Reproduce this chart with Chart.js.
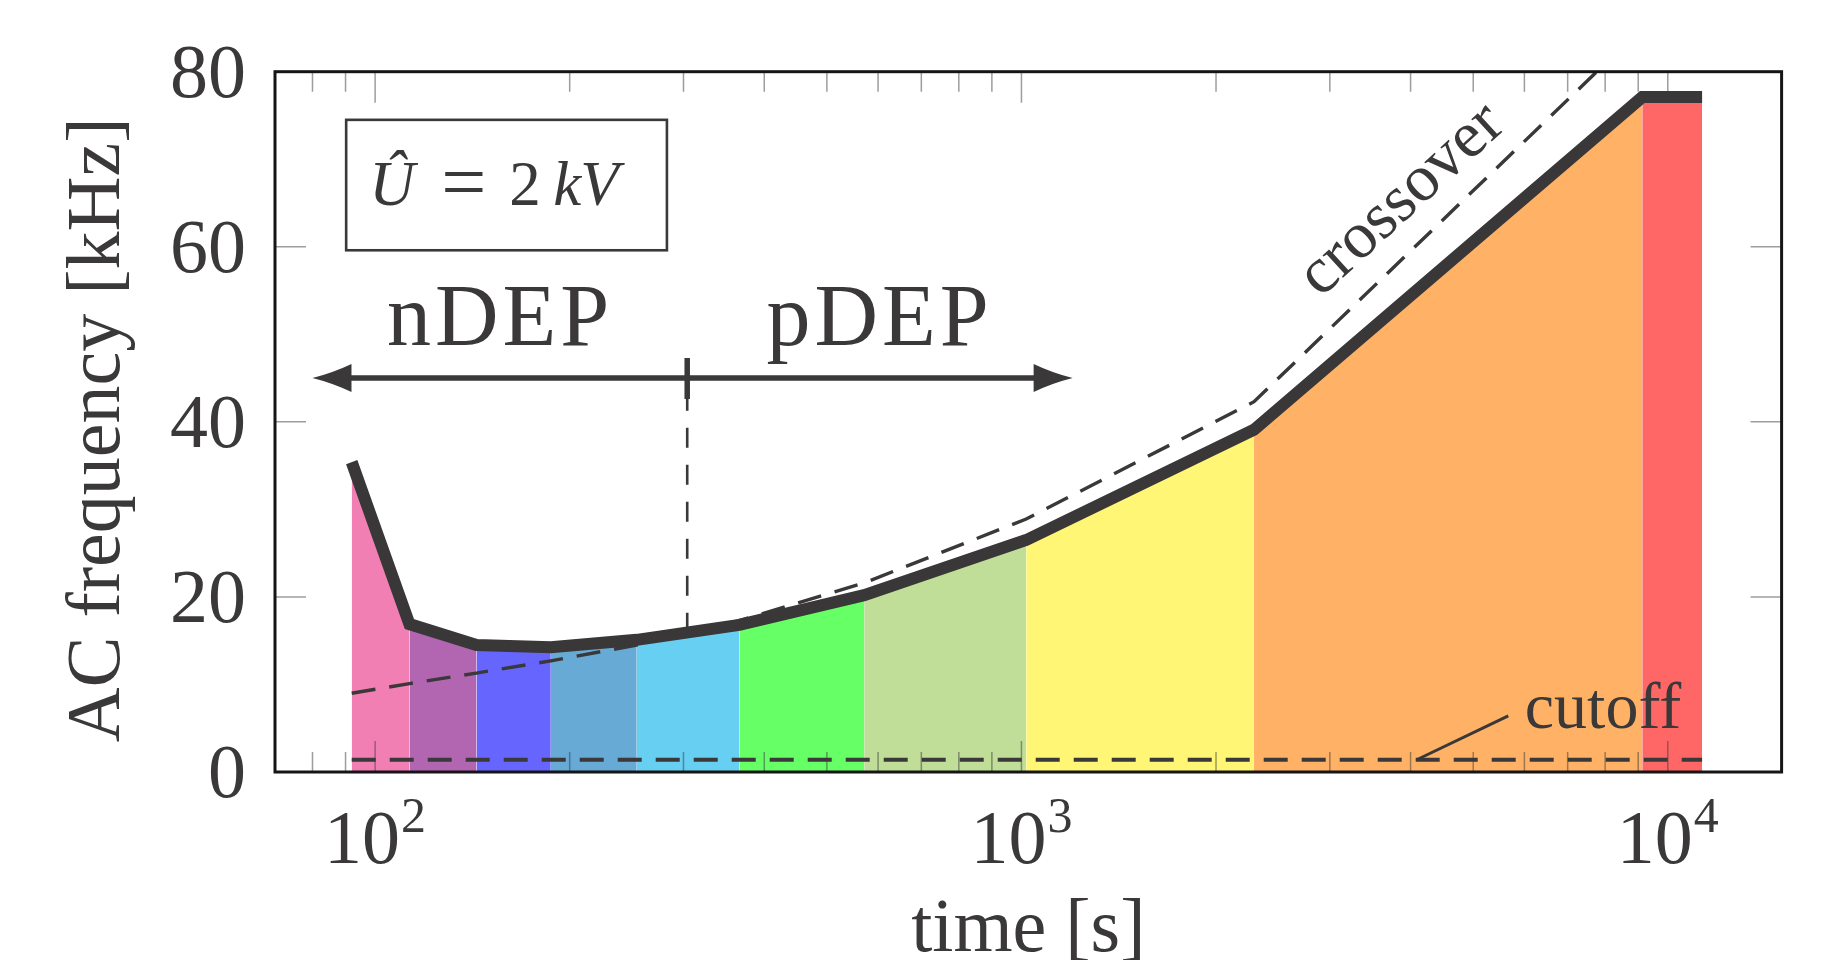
<!DOCTYPE html>
<html>
<head>
<meta charset="utf-8">
<title>AC frequency vs time</title>
<script src="https://cdn.jsdelivr.net/npm/chart.js@4.4.1/dist/chart.umd.min.js"></script>
<style>
    html, body { margin: 0; padding: 0; background: #fff; }
    #wrap { width: 1840px; height: 960px; }
</style>
</head>
<body>
<div id="wrap"><canvas id="freqChart" width="1840" height="960"></canvas></div>
<script>
// --- data ---
const bandTimes = [92, 113, 143.5, 187, 254, 366, 571, 1017, 2290, 9130, 11300];
const measuredFreq = [35.4, 16.9, 14.5, 14.25, 15.1, 16.8, 20.2, 26.5, 39.1, 77.1, 77.1];
const bandColors = ['#F27FB3', '#B266B2', '#6666FF', '#66AAD5', '#66CFF2',
    '#66FF66', '#C0DE97', '#FFF676', '#FFB266', '#FF6666'];

const crossoverTimes = [92, 113, 143.5, 187, 254, 366, 571, 1017, 2290, 9130];
const crossoverFreq = [9.0, 10.1, 11.3, 12.7, 14.5, 17.3, 21.6, 28.9, 42.3, 85.0];

const cutoffTimes = [92, 11300];
const cutoffFreq = [1.4, 1.4];

const markerTimes = [304, 304];
const markerFreq = [15.9, 42.6];

const xMajorTicks = [100, 1000, 10000];
const xTickBase = '10';
const xTickExponents = ['2', '3', '4'];
const xMinorTicks = [80, 90, 200, 300, 400, 500, 600, 700, 800, 900,
    2000, 3000, 4000, 5000, 6000, 7000, 8000, 9000];
const yTicks = [0, 20, 40, 60, 80];
const yTickLabels = ['0', '20', '40', '60', '80'];

// annotation anchors (data coordinates)
const arrowLevel = 45;
const arrowFrom = 80;
const arrowTo = 1200;
const boxCorners = [[90.2, 74.5], [282.8, 59.6]];
const regionLabels = [['nDEP', 155, 48.8], ['pDEP', 599, 48.8]];
const crossoverLabelAt = [2901, 54.1];
const cutoffLabelAt = [6009, 5.0];
const cutoffLeader = [[4088, 1.4], [5665, 6.4]];

const INK = '#3a3838';
const SERIF = '"Liberation Serif", "DejaVu Serif", serif';

function pts(xs, ys) {
    return xs.map(function (t, i) { return { x: t, y: ys[i] }; });
}

const datasets = [
    {
        label: 'measured',
        data: pts(bandTimes, measuredFreq),
        borderColor: '#393737',
        borderWidth: 12,
        borderJoinStyle: 'miter',
        borderCapStyle: 'butt',
        pointRadius: 0,
        fill: false,
    },
    {
        label: 'crossover',
        data: pts(crossoverTimes, crossoverFreq),
        borderColor: INK,
        borderWidth: 3.4,
        borderDash: [24, 14],
        pointRadius: 0,
        fill: false,
    },
    {
        label: 'cutoff',
        data: pts(cutoffTimes, cutoffFreq),
        borderColor: INK,
        borderWidth: 3.8,
        borderDash: [24, 14],
        pointRadius: 0,
        fill: false,
    },
    {
        label: 'nDEP/pDEP',
        data: pts(markerTimes, markerFreq),
        borderColor: INK,
        borderWidth: 2.6,
        borderDash: [20, 17],
        pointRadius: 0,
        fill: false,
    },
];

for (let i = 0; i < bandColors.length; i++) {
    datasets.push({
        label: 'band ' + i,
        data: [
            { x: bandTimes[i], y: measuredFreq[i] },
            { x: bandTimes[i + 1], y: measuredFreq[i + 1] },
        ],
        borderColor: 'rgba(0,0,0,0)',
        borderWidth: 0,
        backgroundColor: bandColors[i],
        pointRadius: 0,
        fill: 'origin',
    });
}

// ticks, frame, labels and annotations, all placed through the chart scales
const overlay = {
    id: 'overlay',
    afterDatasetsDraw(chart) {
        const ctx = chart.ctx;
        const a = chart.chartArea;
        const xs = chart.scales.x;
        const ys = chart.scales.y;
        const px = function (t) { return xs.getPixelForValue(t); };
        const py = function (f) { return ys.getPixelForValue(f); };

        ctx.save();

        // inward ticks
        ctx.strokeStyle = 'rgba(60,60,60,0.5)';
        ctx.lineWidth = 1.5;
        ctx.beginPath();
        xMinorTicks.forEach(function (v) {
            const x = px(v);
            ctx.moveTo(x, a.bottom); ctx.lineTo(x, a.bottom - 20);
            ctx.moveTo(x, a.top); ctx.lineTo(x, a.top + 20);
        });
        xMajorTicks.forEach(function (v) {
            const x = px(v);
            ctx.moveTo(x, a.bottom); ctx.lineTo(x, a.bottom - 31);
            ctx.moveTo(x, a.top); ctx.lineTo(x, a.top + 31);
        });
        yTicks.forEach(function (v) {
            const y = py(v);
            ctx.moveTo(a.left, y); ctx.lineTo(a.left + 31, y);
            ctx.moveTo(a.right, y); ctx.lineTo(a.right - 31, y);
        });
        ctx.stroke();

        // frame
        ctx.strokeStyle = '#151515';
        ctx.lineWidth = 3;
        ctx.strokeRect(a.left, a.top, a.right - a.left, a.bottom - a.top);

        ctx.fillStyle = INK;
        ctx.strokeStyle = INK;

        // y tick labels
        ctx.font = '76px ' + SERIF;
        ctx.textAlign = 'right';
        ctx.textBaseline = 'alphabetic';
        yTicks.forEach(function (v, i) {
            ctx.fillText(yTickLabels[i], a.left - 29, py(v) + 25);
        });

        // x tick labels: 10^n
        ctx.textAlign = 'left';
        xMajorTicks.forEach(function (v, i) {
            ctx.font = '76px ' + SERIF;
            const wBase = ctx.measureText(xTickBase).width;
            ctx.font = '50px ' + SERIF;
            const wExp = ctx.measureText(xTickExponents[i]).width;
            const start = px(v) - (wBase + wExp + 1) / 2;
            ctx.font = '76px ' + SERIF;
            ctx.fillText(xTickBase, start, a.bottom + 91);
            ctx.font = '50px ' + SERIF;
            ctx.fillText(xTickExponents[i], start + wBase + 1, a.bottom + 60);
        });

        // axis titles
        ctx.font = '76px ' + SERIF;
        ctx.textAlign = 'center';
        ctx.fillText('time [s]', (a.left + a.right) / 2, a.bottom + 179);
        ctx.save();
        ctx.translate(119, (a.top + a.bottom) / 2 + 8);
        ctx.rotate(-Math.PI / 2);
        ctx.fillText('AC frequency [kHz]', 0, 0);
        ctx.restore();

        // voltage box
        const bx1 = px(boxCorners[0][0]);
        const by1 = py(boxCorners[0][1]);
        const bx2 = px(boxCorners[1][0]);
        const by2 = py(boxCorners[1][1]);
        ctx.lineWidth = 2.6;
        ctx.strokeRect(bx1, by1, bx2 - bx1, by2 - by1);
        ctx.textAlign = 'left';
        const base = by1 + 85;
        [['Û', 'italic', 23, 63, 0], ['=', 'normal', 95, 80, 4], ['2', 'normal', 163, 63, 0],
            ['k', 'italic', 207, 63, 0], ['V', 'italic', 234, 63, 0]].forEach(function (p) {
            ctx.font = p[1] + ' ' + p[3] + 'px ' + SERIF;
            ctx.fillText(p[0], bx1 + p[2], base + p[4]);
        });

        // nDEP / pDEP labels
        ctx.font = '88px ' + SERIF;
        ctx.textAlign = 'center';
        ctx.letterSpacing = '4px';
        regionLabels.forEach(function (l) {
            ctx.fillText(l[0], px(l[1]) + 2, py(l[2]));
        });
        ctx.letterSpacing = '0px';

        // double arrow with split tick
        const ay = py(arrowLevel);
        const ax1 = px(arrowFrom);
        const ax2 = px(arrowTo);
        const axm = px(markerTimes[0]);
        ctx.lineWidth = 5.5;
        ctx.beginPath();
        ctx.moveTo(ax1 + 30, ay); ctx.lineTo(ax2 - 30, ay);
        ctx.moveTo(axm, ay - 20); ctx.lineTo(axm, ay + 21);
        ctx.stroke();
        [[ax1, -1], [ax2, 1]].forEach(function (h) {
            const tip = h[0];
            const back = tip - h[1] * 39;
            ctx.beginPath();
            ctx.moveTo(tip, ay);
            ctx.quadraticCurveTo(tip - h[1] * 20, ay - 5, back, ay - 14);
            ctx.lineTo(back, ay + 14);
            ctx.quadraticCurveTo(tip - h[1] * 20, ay + 5, tip, ay);
            ctx.closePath();
            ctx.fill();
        });

        // crossover label along the dashed curve
        ctx.save();
        ctx.translate(px(crossoverLabelAt[0]), py(crossoverLabelAt[1]));
        ctx.rotate(-42.5 * Math.PI / 180);
        ctx.font = '66px ' + SERIF;
        ctx.textAlign = 'left';
        ctx.fillText('crossover', 0, 0);
        ctx.restore();

        // cutoff label with leader
        ctx.lineWidth = 3;
        ctx.beginPath();
        ctx.moveTo(px(cutoffLeader[0][0]), py(cutoffLeader[0][1]));
        ctx.lineTo(px(cutoffLeader[1][0]), py(cutoffLeader[1][1]));
        ctx.stroke();
        ctx.font = '66px ' + SERIF;
        ctx.textAlign = 'left';
        ctx.fillText('cutoff', px(cutoffLabelAt[0]), py(cutoffLabelAt[1]));

        ctx.restore();
    },
};

new Chart(document.getElementById('freqChart'), {
    type: 'line',
    data: { datasets: datasets },
    options: {
        responsive: false,
        devicePixelRatio: 1,
        animation: false,
        events: [],
        layout: { padding: { left: 275, right: 58.4, top: 71.7, bottom: 188 } },
        elements: { line: { tension: 0 } },
        plugins: {
            legend: { display: false },
            tooltip: { enabled: false },
        },
        scales: {
            x: { type: 'logarithmic', min: 70, max: 15000, display: false },
            y: { type: 'linear', min: 0, max: 80, display: false },
        },
    },
    plugins: [overlay],
});
</script>
</body>
</html>
